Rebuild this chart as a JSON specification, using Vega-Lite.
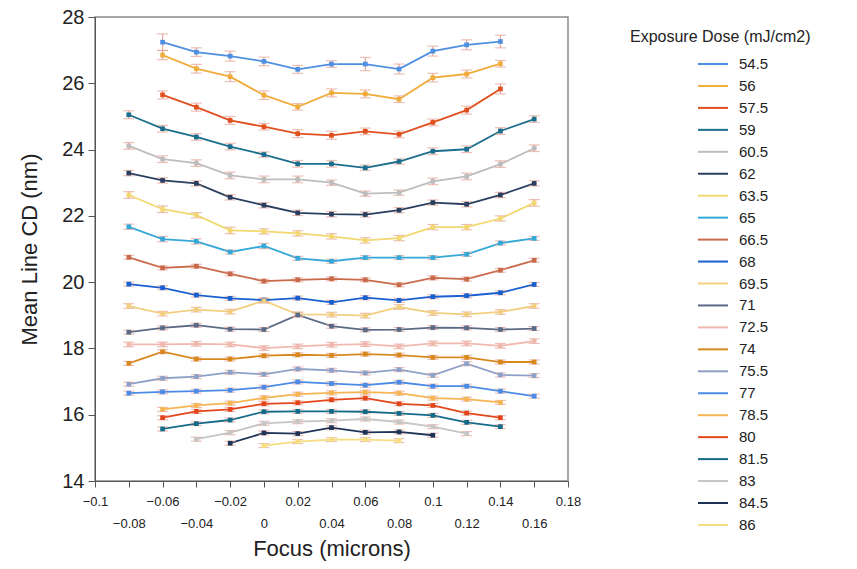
{
  "$schema": "https://vega.github.io/schema/vega-lite/v6.json",
  "autosize": "none",
  "width": 473,
  "height": 464,
  "padding": {"left": 95, "top": 17, "right": 289, "bottom": 88},
  "background": "white",
  "config": {
    "font": "Liberation Sans",
    "view": {"stroke": "#8a8a8a", "strokeWidth": 1.5},
    "axis": {"grid": false, "domainColor": "#555", "tickColor": "#555", "labelColor": "#222", "titleColor": "#222", "titleFontWeight": "normal"}
  },
  "data": {"values": [
    {"dose":"54.5","focus":-0.06,"cd":27.24,"err":0.25},{"dose":"54.5","focus":-0.04,"cd":26.94,"err":0.13},{"dose":"54.5","focus":-0.02,"cd":26.82,"err":0.15},{"dose":"54.5","focus":0,"cd":26.66,"err":0.13},{"dose":"54.5","focus":0.02,"cd":26.42,"err":0.12},{"dose":"54.5","focus":0.04,"cd":26.58,"err":0.1},{"dose":"54.5","focus":0.06,"cd":26.58,"err":0.2},{"dose":"54.5","focus":0.08,"cd":26.43,"err":0.15},{"dose":"54.5","focus":0.1,"cd":26.97,"err":0.15},{"dose":"54.5","focus":0.12,"cd":27.16,"err":0.15},{"dose":"54.5","focus":0.14,"cd":27.26,"err":0.19},
    {"dose":"56","focus":-0.06,"cd":26.85,"err":0.14},{"dose":"56","focus":-0.04,"cd":26.44,"err":0.13},{"dose":"56","focus":-0.02,"cd":26.2,"err":0.15},{"dose":"56","focus":0,"cd":25.64,"err":0.13},{"dose":"56","focus":0.02,"cd":25.29,"err":0.1},{"dose":"56","focus":0.04,"cd":25.71,"err":0.12},{"dose":"56","focus":0.06,"cd":25.68,"err":0.12},{"dose":"56","focus":0.08,"cd":25.52,"err":0.1},{"dose":"56","focus":0.1,"cd":26.17,"err":0.13},{"dose":"56","focus":0.12,"cd":26.28,"err":0.12},{"dose":"56","focus":0.14,"cd":26.59,"err":0.1},
    {"dose":"57.5","focus":-0.06,"cd":25.65,"err":0.12},{"dose":"57.5","focus":-0.04,"cd":25.28,"err":0.12},{"dose":"57.5","focus":-0.02,"cd":24.88,"err":0.12},{"dose":"57.5","focus":0,"cd":24.69,"err":0.1},{"dose":"57.5","focus":0.02,"cd":24.48,"err":0.12},{"dose":"57.5","focus":0.04,"cd":24.43,"err":0.12},{"dose":"57.5","focus":0.06,"cd":24.55,"err":0.1},{"dose":"57.5","focus":0.08,"cd":24.46,"err":0.1},{"dose":"57.5","focus":0.1,"cd":24.82,"err":0.1},{"dose":"57.5","focus":0.12,"cd":25.19,"err":0.12},{"dose":"57.5","focus":0.14,"cd":25.83,"err":0.15},
    {"dose":"59","focus":-0.08,"cd":25.05,"err":0.12},{"dose":"59","focus":-0.06,"cd":24.63,"err":0.1},{"dose":"59","focus":-0.04,"cd":24.38,"err":0.1},{"dose":"59","focus":-0.02,"cd":24.09,"err":0.1},{"dose":"59","focus":0,"cd":23.85,"err":0.08},{"dose":"59","focus":0.02,"cd":23.57,"err":0.1},{"dose":"59","focus":0.04,"cd":23.57,"err":0.1},{"dose":"59","focus":0.06,"cd":23.45,"err":0.08},{"dose":"59","focus":0.08,"cd":23.64,"err":0.08},{"dose":"59","focus":0.1,"cd":23.95,"err":0.1},{"dose":"59","focus":0.12,"cd":24.01,"err":0.1},{"dose":"59","focus":0.14,"cd":24.56,"err":0.1},{"dose":"59","focus":0.16,"cd":24.92,"err":0.1},
    {"dose":"60.5","focus":-0.08,"cd":24.11,"err":0.1},{"dose":"60.5","focus":-0.06,"cd":23.71,"err":0.1},{"dose":"60.5","focus":-0.04,"cd":23.59,"err":0.1},{"dose":"60.5","focus":-0.02,"cd":23.22,"err":0.1},{"dose":"60.5","focus":0,"cd":23.1,"err":0.1},{"dose":"60.5","focus":0.02,"cd":23.1,"err":0.1},{"dose":"60.5","focus":0.04,"cd":23.0,"err":0.08},{"dose":"60.5","focus":0.06,"cd":22.67,"err":0.08},{"dose":"60.5","focus":0.08,"cd":22.7,"err":0.08},{"dose":"60.5","focus":0.1,"cd":23.04,"err":0.1},{"dose":"60.5","focus":0.12,"cd":23.19,"err":0.1},{"dose":"60.5","focus":0.14,"cd":23.56,"err":0.1},{"dose":"60.5","focus":0.16,"cd":24.04,"err":0.1},
    {"dose":"62","focus":-0.08,"cd":23.29,"err":0.08},{"dose":"62","focus":-0.06,"cd":23.07,"err":0.08},{"dose":"62","focus":-0.04,"cd":22.98,"err":0.08},{"dose":"62","focus":-0.02,"cd":22.56,"err":0.08},{"dose":"62","focus":0,"cd":22.32,"err":0.08},{"dose":"62","focus":0.02,"cd":22.09,"err":0.08},{"dose":"62","focus":0.04,"cd":22.05,"err":0.08},{"dose":"62","focus":0.06,"cd":22.04,"err":0.08},{"dose":"62","focus":0.08,"cd":22.17,"err":0.08},{"dose":"62","focus":0.1,"cd":22.4,"err":0.08},{"dose":"62","focus":0.12,"cd":22.35,"err":0.08},{"dose":"62","focus":0.14,"cd":22.63,"err":0.08},{"dose":"62","focus":0.16,"cd":22.98,"err":0.08},
    {"dose":"63.5","focus":-0.08,"cd":22.63,"err":0.1},{"dose":"63.5","focus":-0.06,"cd":22.2,"err":0.1},{"dose":"63.5","focus":-0.04,"cd":22.02,"err":0.08},{"dose":"63.5","focus":-0.02,"cd":21.56,"err":0.1},{"dose":"63.5","focus":0,"cd":21.53,"err":0.08},{"dose":"63.5","focus":0.02,"cd":21.47,"err":0.08},{"dose":"63.5","focus":0.04,"cd":21.38,"err":0.08},{"dose":"63.5","focus":0.06,"cd":21.26,"err":0.08},{"dose":"63.5","focus":0.08,"cd":21.33,"err":0.08},{"dose":"63.5","focus":0.1,"cd":21.66,"err":0.08},{"dose":"63.5","focus":0.12,"cd":21.66,"err":0.08},{"dose":"63.5","focus":0.14,"cd":21.92,"err":0.08},{"dose":"63.5","focus":0.16,"cd":22.39,"err":0.1},
    {"dose":"65","focus":-0.08,"cd":21.67,"err":0.08},{"dose":"65","focus":-0.06,"cd":21.3,"err":0.08},{"dose":"65","focus":-0.04,"cd":21.23,"err":0.08},{"dose":"65","focus":-0.02,"cd":20.91,"err":0.06},{"dose":"65","focus":0,"cd":21.09,"err":0.08},{"dose":"65","focus":0.02,"cd":20.72,"err":0.06},{"dose":"65","focus":0.04,"cd":20.63,"err":0.06},{"dose":"65","focus":0.06,"cd":20.74,"err":0.06},{"dose":"65","focus":0.08,"cd":20.74,"err":0.06},{"dose":"65","focus":0.1,"cd":20.74,"err":0.06},{"dose":"65","focus":0.12,"cd":20.84,"err":0.06},{"dose":"65","focus":0.14,"cd":21.18,"err":0.06},{"dose":"65","focus":0.16,"cd":21.32,"err":0.06},
    {"dose":"66.5","focus":-0.08,"cd":20.75,"err":0.06},{"dose":"66.5","focus":-0.06,"cd":20.43,"err":0.06},{"dose":"66.5","focus":-0.04,"cd":20.48,"err":0.06},{"dose":"66.5","focus":-0.02,"cd":20.25,"err":0.06},{"dose":"66.5","focus":0,"cd":20.03,"err":0.06},{"dose":"66.5","focus":0.02,"cd":20.07,"err":0.06},{"dose":"66.5","focus":0.04,"cd":20.1,"err":0.06},{"dose":"66.5","focus":0.06,"cd":20.07,"err":0.06},{"dose":"66.5","focus":0.08,"cd":19.92,"err":0.06},{"dose":"66.5","focus":0.1,"cd":20.13,"err":0.06},{"dose":"66.5","focus":0.12,"cd":20.09,"err":0.06},{"dose":"66.5","focus":0.14,"cd":20.36,"err":0.06},{"dose":"66.5","focus":0.16,"cd":20.66,"err":0.06},
    {"dose":"68","focus":-0.08,"cd":19.94,"err":0.06},{"dose":"68","focus":-0.06,"cd":19.83,"err":0.06},{"dose":"68","focus":-0.04,"cd":19.61,"err":0.06},{"dose":"68","focus":-0.02,"cd":19.51,"err":0.06},{"dose":"68","focus":0,"cd":19.46,"err":0.06},{"dose":"68","focus":0.02,"cd":19.52,"err":0.06},{"dose":"68","focus":0.04,"cd":19.39,"err":0.06},{"dose":"68","focus":0.06,"cd":19.53,"err":0.06},{"dose":"68","focus":0.08,"cd":19.45,"err":0.06},{"dose":"68","focus":0.1,"cd":19.56,"err":0.06},{"dose":"68","focus":0.12,"cd":19.59,"err":0.06},{"dose":"68","focus":0.14,"cd":19.68,"err":0.06},{"dose":"68","focus":0.16,"cd":19.93,"err":0.06},
    {"dose":"69.5","focus":-0.08,"cd":19.28,"err":0.07},{"dose":"69.5","focus":-0.06,"cd":19.05,"err":0.07},{"dose":"69.5","focus":-0.04,"cd":19.17,"err":0.07},{"dose":"69.5","focus":-0.02,"cd":19.11,"err":0.07},{"dose":"69.5","focus":0,"cd":19.44,"err":0.07},{"dose":"69.5","focus":0.02,"cd":19.03,"err":0.07},{"dose":"69.5","focus":0.04,"cd":19.02,"err":0.07},{"dose":"69.5","focus":0.06,"cd":18.99,"err":0.07},{"dose":"69.5","focus":0.08,"cd":19.25,"err":0.07},{"dose":"69.5","focus":0.1,"cd":19.07,"err":0.07},{"dose":"69.5","focus":0.12,"cd":19.03,"err":0.07},{"dose":"69.5","focus":0.14,"cd":19.1,"err":0.07},{"dose":"69.5","focus":0.16,"cd":19.28,"err":0.07},
    {"dose":"71","focus":-0.08,"cd":18.49,"err":0.06},{"dose":"71","focus":-0.06,"cd":18.62,"err":0.06},{"dose":"71","focus":-0.04,"cd":18.7,"err":0.06},{"dose":"71","focus":-0.02,"cd":18.58,"err":0.06},{"dose":"71","focus":0,"cd":18.57,"err":0.06},{"dose":"71","focus":0.02,"cd":19.01,"err":0.06},{"dose":"71","focus":0.04,"cd":18.67,"err":0.06},{"dose":"71","focus":0.06,"cd":18.56,"err":0.06},{"dose":"71","focus":0.08,"cd":18.57,"err":0.06},{"dose":"71","focus":0.1,"cd":18.63,"err":0.06},{"dose":"71","focus":0.12,"cd":18.62,"err":0.06},{"dose":"71","focus":0.14,"cd":18.57,"err":0.06},{"dose":"71","focus":0.16,"cd":18.6,"err":0.06},
    {"dose":"72.5","focus":-0.08,"cd":18.12,"err":0.07},{"dose":"72.5","focus":-0.06,"cd":18.12,"err":0.07},{"dose":"72.5","focus":-0.04,"cd":18.14,"err":0.07},{"dose":"72.5","focus":-0.02,"cd":18.12,"err":0.07},{"dose":"72.5","focus":0,"cd":18.01,"err":0.07},{"dose":"72.5","focus":0.02,"cd":18.06,"err":0.07},{"dose":"72.5","focus":0.04,"cd":18.11,"err":0.07},{"dose":"72.5","focus":0.06,"cd":18.13,"err":0.07},{"dose":"72.5","focus":0.08,"cd":18.06,"err":0.07},{"dose":"72.5","focus":0.1,"cd":18.15,"err":0.07},{"dose":"72.5","focus":0.12,"cd":18.15,"err":0.07},{"dose":"72.5","focus":0.14,"cd":18.08,"err":0.07},{"dose":"72.5","focus":0.16,"cd":18.22,"err":0.07},
    {"dose":"74","focus":-0.08,"cd":17.55,"err":0.06},{"dose":"74","focus":-0.06,"cd":17.9,"err":0.06},{"dose":"74","focus":-0.04,"cd":17.68,"err":0.06},{"dose":"74","focus":-0.02,"cd":17.68,"err":0.06},{"dose":"74","focus":0,"cd":17.78,"err":0.06},{"dose":"74","focus":0.02,"cd":17.81,"err":0.06},{"dose":"74","focus":0.04,"cd":17.79,"err":0.06},{"dose":"74","focus":0.06,"cd":17.83,"err":0.06},{"dose":"74","focus":0.08,"cd":17.8,"err":0.06},{"dose":"74","focus":0.1,"cd":17.73,"err":0.06},{"dose":"74","focus":0.12,"cd":17.73,"err":0.06},{"dose":"74","focus":0.14,"cd":17.59,"err":0.06},{"dose":"74","focus":0.16,"cd":17.59,"err":0.06},
    {"dose":"75.5","focus":-0.08,"cd":16.92,"err":0.06},{"dose":"75.5","focus":-0.06,"cd":17.1,"err":0.06},{"dose":"75.5","focus":-0.04,"cd":17.15,"err":0.06},{"dose":"75.5","focus":-0.02,"cd":17.28,"err":0.06},{"dose":"75.5","focus":0,"cd":17.22,"err":0.06},{"dose":"75.5","focus":0.02,"cd":17.38,"err":0.06},{"dose":"75.5","focus":0.04,"cd":17.34,"err":0.06},{"dose":"75.5","focus":0.06,"cd":17.26,"err":0.06},{"dose":"75.5","focus":0.08,"cd":17.36,"err":0.06},{"dose":"75.5","focus":0.1,"cd":17.19,"err":0.06},{"dose":"75.5","focus":0.12,"cd":17.54,"err":0.06},{"dose":"75.5","focus":0.14,"cd":17.2,"err":0.06},{"dose":"75.5","focus":0.16,"cd":17.18,"err":0.06},
    {"dose":"77","focus":-0.08,"cd":16.65,"err":0.06},{"dose":"77","focus":-0.06,"cd":16.69,"err":0.06},{"dose":"77","focus":-0.04,"cd":16.71,"err":0.06},{"dose":"77","focus":-0.02,"cd":16.74,"err":0.06},{"dose":"77","focus":0,"cd":16.83,"err":0.06},{"dose":"77","focus":0.02,"cd":16.99,"err":0.06},{"dose":"77","focus":0.04,"cd":16.94,"err":0.06},{"dose":"77","focus":0.06,"cd":16.89,"err":0.06},{"dose":"77","focus":0.08,"cd":16.98,"err":0.06},{"dose":"77","focus":0.1,"cd":16.86,"err":0.06},{"dose":"77","focus":0.12,"cd":16.86,"err":0.06},{"dose":"77","focus":0.14,"cd":16.71,"err":0.06},{"dose":"77","focus":0.16,"cd":16.56,"err":0.06},
    {"dose":"78.5","focus":-0.06,"cd":16.16,"err":0.06},{"dose":"78.5","focus":-0.04,"cd":16.28,"err":0.06},{"dose":"78.5","focus":-0.02,"cd":16.35,"err":0.06},{"dose":"78.5","focus":0,"cd":16.51,"err":0.06},{"dose":"78.5","focus":0.02,"cd":16.62,"err":0.06},{"dose":"78.5","focus":0.04,"cd":16.66,"err":0.06},{"dose":"78.5","focus":0.06,"cd":16.68,"err":0.06},{"dose":"78.5","focus":0.08,"cd":16.65,"err":0.06},{"dose":"78.5","focus":0.1,"cd":16.5,"err":0.06},{"dose":"78.5","focus":0.12,"cd":16.47,"err":0.06},{"dose":"78.5","focus":0.14,"cd":16.37,"err":0.06},
    {"dose":"80","focus":-0.06,"cd":15.91,"err":0.06},{"dose":"80","focus":-0.04,"cd":16.1,"err":0.06},{"dose":"80","focus":-0.02,"cd":16.16,"err":0.06},{"dose":"80","focus":0,"cd":16.33,"err":0.06},{"dose":"80","focus":0.02,"cd":16.36,"err":0.06},{"dose":"80","focus":0.04,"cd":16.45,"err":0.06},{"dose":"80","focus":0.06,"cd":16.5,"err":0.06},{"dose":"80","focus":0.08,"cd":16.33,"err":0.06},{"dose":"80","focus":0.1,"cd":16.28,"err":0.06},{"dose":"80","focus":0.12,"cd":16.05,"err":0.06},{"dose":"80","focus":0.14,"cd":15.91,"err":0.06},
    {"dose":"81.5","focus":-0.06,"cd":15.57,"err":0.06},{"dose":"81.5","focus":-0.04,"cd":15.73,"err":0.06},{"dose":"81.5","focus":-0.02,"cd":15.84,"err":0.06},{"dose":"81.5","focus":0,"cd":16.09,"err":0.06},{"dose":"81.5","focus":0.02,"cd":16.1,"err":0.06},{"dose":"81.5","focus":0.04,"cd":16.1,"err":0.06},{"dose":"81.5","focus":0.06,"cd":16.09,"err":0.06},{"dose":"81.5","focus":0.08,"cd":16.04,"err":0.06},{"dose":"81.5","focus":0.1,"cd":15.98,"err":0.06},{"dose":"81.5","focus":0.12,"cd":15.77,"err":0.06},{"dose":"81.5","focus":0.14,"cd":15.64,"err":0.06},
    {"dose":"83","focus":-0.04,"cd":15.26,"err":0.06},{"dose":"83","focus":-0.02,"cd":15.46,"err":0.06},{"dose":"83","focus":0,"cd":15.74,"err":0.06},{"dose":"83","focus":0.02,"cd":15.79,"err":0.06},{"dose":"83","focus":0.04,"cd":15.82,"err":0.06},{"dose":"83","focus":0.06,"cd":15.87,"err":0.06},{"dose":"83","focus":0.08,"cd":15.78,"err":0.06},{"dose":"83","focus":0.1,"cd":15.64,"err":0.06},{"dose":"83","focus":0.12,"cd":15.43,"err":0.06},
    {"dose":"84.5","focus":-0.02,"cd":15.14,"err":0.06},{"dose":"84.5","focus":0,"cd":15.45,"err":0.06},{"dose":"84.5","focus":0.02,"cd":15.43,"err":0.06},{"dose":"84.5","focus":0.04,"cd":15.61,"err":0.06},{"dose":"84.5","focus":0.06,"cd":15.47,"err":0.06},{"dose":"84.5","focus":0.08,"cd":15.48,"err":0.06},{"dose":"84.5","focus":0.1,"cd":15.38,"err":0.06},
    {"dose":"86","focus":0,"cd":15.07,"err":0.06},{"dose":"86","focus":0.02,"cd":15.19,"err":0.06},{"dose":"86","focus":0.04,"cd":15.25,"err":0.06},{"dose":"86","focus":0.06,"cd":15.25,"err":0.06},{"dose":"86","focus":0.08,"cd":15.22,"err":0.06}
  ]},
  "encoding": {
    "x": {
      "field": "focus", "type": "quantitative",
      "scale": {"domain": [-0.1, 0.18], "nice": false, "zero": false},
      "axis": {
        "title": "Focus (microns)", "titleFontSize": 22, "titlePadding": 8,
        "values": [-0.1, -0.08, -0.06, -0.04, -0.02, 0, 0.02, 0.04, 0.06, 0.08, 0.1, 0.12, 0.14, 0.16, 0.18],
        "labelExpr": "abs(round(datum.value*100)) % 4 == 0 ? ['', datum.label] : datum.label",
        "format": "~g",
        "labelFontSize": 13, "labelLineHeight": 22, "labelPadding": 8, "labelOverlap": false, "labelFlush": false,
        "tickSize": 6, "domainWidth": 1
      }
    },
    "y": {
      "field": "cd", "type": "quantitative",
      "scale": {"domain": [14, 28], "nice": false, "zero": false},
      "axis": {
        "title": "Mean Line CD (nm)", "titleFontSize": 22, "titlePadding": 20,
        "values": [14, 16, 18, 20, 22, 24, 26, 28],
        "labelFontSize": 20, "labelPadding": 4, "tickSize": 7, "domainWidth": 1
      }
    }
  },
  "layer": [
    {
      "mark": {"type": "line", "strokeWidth": 1.8},
      "encoding": {
        "color": {
          "field": "dose", "type": "nominal",
          "scale": {
            "domain": ["54.5","56","57.5","59","60.5","62","63.5","65","66.5","68","69.5","71","72.5","74","75.5","77","78.5","80","81.5","83","84.5","86"],
            "range": ["#4f8fe0","#f0ad3c","#e0501e","#1b6e8c","#bdbdbd","#2a3f5f","#f2d870","#35a8d8","#c96a4b","#1a5fd0","#f2cf7e","#5b6a86","#f0b9b0","#d8891e","#8fa0c8","#4b8be6","#f5b553","#e3461b","#136b88","#c6c6c6","#1e3457","#f5dd80"]
          },
          "legend": {
            "title": "Exposure Dose (mJ/cm2)", "orient": "none", "legendX": 535, "legendY": 12,
            "titleFontSize": 16, "titleFontWeight": "normal", "titleColor": "#222", "titlePadding": 8, "titleLimit": 400,
            "labelFontSize": 15, "labelColor": "#222",
            "symbolType": "M-1.5,0H1.5", "symbolSize": 400, "symbolStrokeWidth": 2,
            "symbolOffset": 72, "labelOffset": 15, "rowPadding": 2.95
          }
        }
      }
    },
    {
      "mark": {"type": "errorbar", "ticks": {"size": 11}, "color": "#e6a597", "thickness": 1.2},
      "encoding": {"yError": {"field": "err"}, "detail": {"field": "dose"}}
    },
    {
      "mark": {"type": "point", "shape": "square", "filled": true, "size": 22, "opacity": 1},
      "encoding": {"color": {"field": "dose", "type": "nominal"}}
    }
  ]
}
